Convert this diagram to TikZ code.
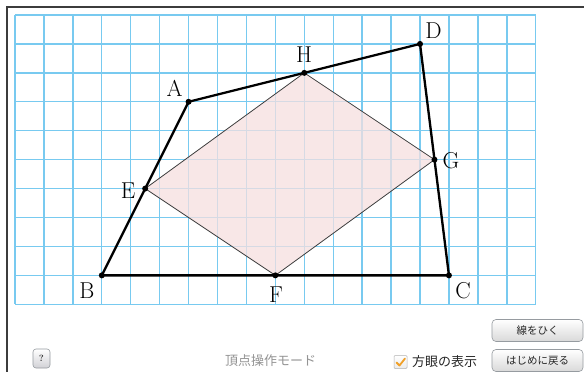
\documentclass[tikz,border=0pt]{standalone}
\usepackage{fontspec}
\newfontfamily\jp{Noto Sans CJK JP}
\usetikzlibrary{calc}
\definecolor{gridcol}{RGB}{120,202,240}
\definecolor{fillcol}{RGB}{246,224,224}
\definecolor{framecol}{RGB}{60,60,60}
\definecolor{btnborder}{RGB}{150,155,160}
\definecolor{checkcol}{RGB}{240,160,40}
\tikzset{
  gridline/.style={draw=gridcol, line width=1.4pt},
  quad/.style={draw=black, line width=2.3pt, line join=round},
  inner/.style={draw=black!75, line width=0.8pt, fill=fillcol, fill opacity=0.75, line join=round},
  vdot/.style={circle, fill=black, inner sep=0pt, minimum size=6pt},
  vlabel/.style={font=\fontsize{23}{23}\selectfont, inner sep=0pt},
  btn/.style={draw=btnborder, line width=0.6pt, rounded corners=4pt, top color=white, bottom color=black!15, inner sep=0pt},
  btntext/.style={font=\jp\fontsize{10.5}{11}\selectfont, text=black!85, inner sep=0pt},
}
\begin{document}
\begin{tikzpicture}[x=1pt,y=-1pt]
\useasboundingbox (0,0) rectangle (584,372);
\fill[white] (0,0) rectangle (584,372);
% outer frame
\draw[framecol, line width=2pt] (7,372) -- (7,7) -- (584,7);
% grid
\begin{scope}[shift={(15,15)}]
  \foreach \i in {0,...,18} \draw[gridline] (\i*28.93,0) -- (\i*28.93,10*28.93);
  \foreach \j in {0,...,10} \draw[gridline] (0,\j*28.93) -- (18*28.93,\j*28.93);
  \coordinate (A) at (6*28.93,3*28.93);
  \coordinate (B) at (3*28.93,9*28.93);
  \coordinate (C) at (15*28.93,9*28.93);
  \coordinate (D) at (14*28.93,1*28.93);
  \coordinate (E) at (4.5*28.93,6*28.93);
  \coordinate (F) at (9*28.93,9*28.93);
  \coordinate (G) at (14.5*28.93,5*28.93);
  \coordinate (H) at (10*28.93,2*28.93);
\end{scope}
% inner parallelogram
\path[inner] (E) -- (F) -- (G) -- (H) -- cycle;
% outer quadrilateral
\draw[quad] (A) -- (D) -- (C) -- (B) -- cycle;
% vertex dots
\foreach \p in {A,B,C,D,E,F,G,H} \node[vdot] (dot\p) at (\p) {};
% labels
\node[vlabel] (lA) at (174.5,88.5) {A};
\node[vlabel] (lB) at (87,291) {B};
\node[vlabel] (lC) at (463,291) {C};
\node[vlabel] (lD) at (433.5,31) {D};
\node[vlabel] (lE) at (128,191) {E};
\node[vlabel] (lF) at (276,295) {F};
\node[vlabel] (lG) at (451,161) {G};
\node[vlabel] (lH) at (304,55) {H};
% bottom controls
\node[btn, minimum width=17pt, minimum height=19pt, rounded corners=3pt, top color=white, bottom color=blue!10!black!18] (help) at (41.5,358.5) {};
\node[font=\bfseries\fontsize{9}{9}\selectfont, text=black!80] (helpq) at (help) {?};
\node[font=\jp\fontsize{13}{14}\selectfont, text=black!42, inner sep=0pt] (mode) at (270.5,361) {頂点操作モード};
\node[draw=black!30, line width=0.5pt, minimum width=13pt, minimum height=13pt, inner sep=0pt, rounded corners=1pt, top color=white, bottom color=black!8] (chk) at (400.5,362) {};
\draw[checkcol, line width=1.8pt, line cap=round, line join=round] ($(chk.center)+(-4,0.5)$) coordinate (c1) -- ($(chk.center)+(-1,3.5)$) coordinate (c2) -- ($(chk.center)+(4.5,-3.5)$) coordinate (c3);
\node[font=\jp\fontsize{13}{14}\selectfont, text=black!85, inner sep=0pt, anchor=west] (grid) at (412,362) {方眼の表示};
\node[btn, minimum width=91pt, minimum height=22pt] (draw) at (537.5,330.5) {};
\node[btntext] (drawt) at (draw) {線をひく};
\node[btn, minimum width=91pt, minimum height=22pt] (reset) at (537.5,360.5) {};
\node[btntext] (resett) at (reset) {はじめに戻る};
\end{tikzpicture}
\end{document}
